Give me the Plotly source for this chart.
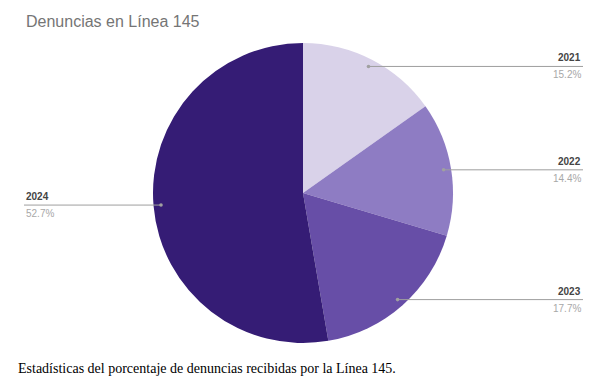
import math
import plotly.graph_objects as go

years = ["2021", "2022", "2023", "2024"]
percent = [15.2, 14.4, 17.7, 52.7]
colors = ["#d9d2e9", "#8e7cc3", "#674ea7", "#351c75"]
pct_labels = ["15.2%", "14.4%", "17.7%", "52.7%"]

W, H = 601, 384
cx, cy, R = 303, 193, 150  # pixel geometry of pie (top-left origin)

fig = go.Figure(go.Pie(
    labels=years, values=percent, sort=False, direction="clockwise", rotation=0,
    marker=dict(colors=colors, line=dict(width=0)),
    textinfo="none", hoverinfo="label+percent", showlegend=False,
    domain=dict(x=[(cx - R) / W, (cx + R) / W], y=[(H - cy - R) / H, (H - cy + R) / H]),
))

def px(x):
    return x / W

def py(y):
    return 1 - y / H

shapes = []
annotations = []
total = sum(percent)
cum = 0
for yr, v, lab in zip(years, percent, pct_labels):
    mid = (cum + v / 2) / total * 2 * math.pi
    cum += v
    x0 = cx + 0.95 * R * math.sin(mid)
    y0 = cy - 0.95 * R * math.cos(mid)
    right = math.sin(mid) >= 0
    xe = 583 if right else 24
    shapes.append(dict(type="line", xref="paper", yref="paper",
                       x0=px(x0), y0=py(y0), x1=px(xe), y1=py(y0),
                       line=dict(color="#9e9e9e", width=1)))
    shapes.append(dict(type="circle", xref="paper", yref="paper",
                       x0=px(x0 - 1.8), y0=py(y0 - 1.8), x1=px(x0 + 1.8), y1=py(y0 + 1.8),
                       fillcolor="#a0a0a0", line=dict(width=0)))
    anchor = "right" if right else "left"
    annotations.append(dict(xref="paper", yref="paper", x=px(xe), y=py(y0 - 1),
                            text="<b>" + yr + "</b>", showarrow=False,
                            xanchor=anchor, yanchor="bottom",
                            font=dict(family="Liberation Sans, Arial", size=10, color="#444444")))
    annotations.append(dict(xref="paper", yref="paper", x=px(xe), y=py(y0 + 1),
                            text=lab, showarrow=False,
                            xanchor=anchor, yanchor="top",
                            font=dict(family="Liberation Sans, Arial", size=10, color="#a8a8a8")))

annotations.append(dict(xref="paper", yref="paper", x=px(24), y=py(22),
                        text="Denuncias en Línea 145", showarrow=False,
                        xanchor="left", yanchor="middle",
                        font=dict(family="Liberation Sans, Arial", size=16, color="#757575")))
annotations.append(dict(xref="paper", yref="paper", x=px(16), y=py(368),
                        text="Estadísticas del porcentaje de denuncias recibidas por la Línea 145.",
                        showarrow=False, xanchor="left", yanchor="middle",
                        font=dict(family="Liberation Serif, Times New Roman", size=14, color="#000000")))

fig.update_layout(
    width=W, height=H, margin=dict(l=0, r=0, t=0, b=0),
    paper_bgcolor="white", plot_bgcolor="white",
    shapes=shapes, annotations=annotations,
)

fig.write_html("out.html", config={"displayModeBar": False})

# remove default page margin so the figure sits at the window's top-left corner
with open("out.html", "r", encoding="utf-8") as f:
    html = f.read()
css = '<style>html,body{margin:0;padding:0;overflow:hidden;}</style>'
html = html.replace("<head>", "<head>" + css, 1)
with open("out.html", "w", encoding="utf-8") as f:
    f.write(html)
